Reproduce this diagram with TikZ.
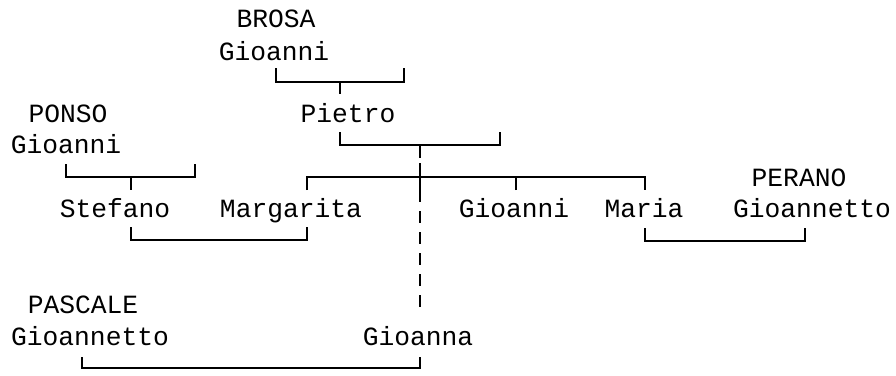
\documentclass[tikz,border=0pt]{standalone}
\usepackage{fontspec}
\usepackage{tikz}
\usetikzlibrary{positioning,calc}
\newfontfamily\treefont{Liberation Mono}
\tikzset{
  person/.style={font=\treefont\fontsize{26.3}{30}\selectfont,anchor=base,inner sep=0pt},
  link/.style={draw=black,line width=1.6pt},
  descent/.style={link,dash pattern=on 12pt off 9pt},
}

\begin{document}
\begin{tikzpicture}[x=1pt,y=-1pt]
  \useasboundingbox (0,0) rectangle (896,375);
  % people
  \node[person] (brosa) at (276,27) {BROSA};
  \node[person] (gioBrosa) at (274,60) {Gioanni};
  \node[person] (pietro) at (348,122) {Pietro};
  \node[person] (ponso) at (68,122) {PONSO};
  \node[person] (gioPonso) at (66,153) {Gioanni};
  \node[person] (stefano) at (115,217) {Stefano};
  \node[person] (margarita) at (291,217) {Margarita};
  \node[person] (gioanni) at (514,217) {Gioanni};
  \node[person] (maria) at (644,217) {Maria};
  \node[person] (perano) at (799,186) {PERANO};
  \node[person] (gioPerano) at (812,217) {Gioannetto};
  \node[person] (pascale) at (83,313) {PASCALE};
  \node[person] (gioPascale) at (90,345) {Gioannetto};
  \node[person] (gioanna) at (418,345) {Gioanna};
  % junction points
  \coordinate (brosaL) at (276,68);
  \coordinate (brosaR) at (404,68);
  \coordinate (brosaJ) at (340,82);
  \coordinate (pietroTop) at (340,94);
  \coordinate (pietroL) at (340,132);
  \coordinate (pietroR) at (500,132);
  \coordinate (pietroJ) at (420,145);
  \coordinate (pietroDown) at (420,158);
  \coordinate (sibUp) at (420,163);
  \coordinate (sibJ) at (420,177);
  \coordinate (sibDown) at (420,190);
  \coordinate (margTop) at (307,190);
  \coordinate (gioTop) at (516,190);
  \coordinate (mariaTop) at (645,190);
  \coordinate (ponsoL) at (66,164);
  \coordinate (ponsoR) at (195,164);
  \coordinate (ponsoJ) at (131,177);
  \coordinate (stefTop) at (131,190);
  \coordinate (stefBot) at (131,227);
  \coordinate (margBot) at (307,227);
  \coordinate (smJ) at (219,240);
  \coordinate (mariaBot) at (645,228);
  \coordinate (peranoBot) at (805,228);
  \coordinate (mpJ) at (725,241);
  \coordinate (gioaTop) at (420,315);
  \coordinate (pascBot) at (82,357);
  \coordinate (gioaBot) at (420,357);
  \coordinate (pgJ) at (251,368);
  % brackets
  \draw[link] (brosaL) |- (brosaJ) -| (brosaR);
  \draw[link] (brosaJ) -- (pietroTop);
  \draw[link] (pietroL) |- (pietroJ) -| (pietroR);
  \draw[link] (pietroJ) -- (pietroDown);
  \draw[link] (sibUp) -- (sibDown);
  \draw[link] (margTop) |- (sibJ) -| (mariaTop);
  \draw[link] (gioTop) -- (gioTop |- sibJ);
  \draw[link] (ponsoL) |- (ponsoJ) -| (ponsoR);
  \draw[link] (ponsoJ) -- (stefTop);
  \draw[link] (stefBot) |- (smJ) -| (margBot);
  \draw[link] (mariaBot) |- (mpJ) -| (peranoBot);
  \draw[descent] (sibDown) -- (gioaTop);
  \draw[link] (pascBot) |- (pgJ) -| (gioaBot);
\end{tikzpicture}
\end{document}
